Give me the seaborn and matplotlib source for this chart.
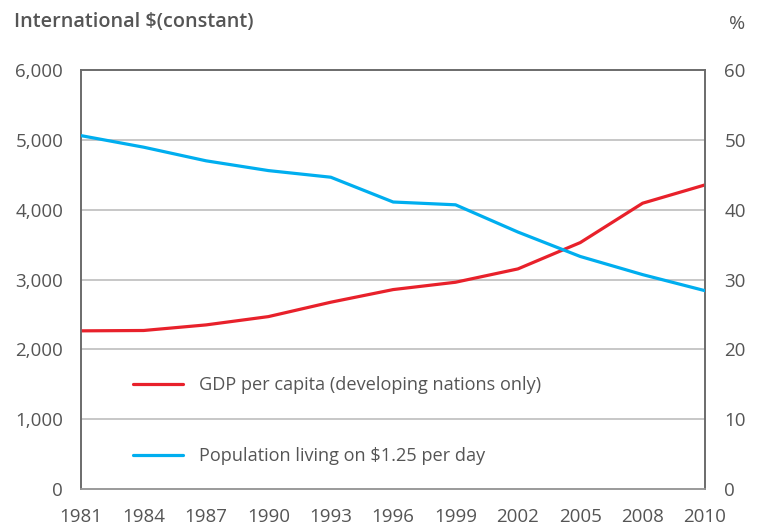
import matplotlib
matplotlib.use("Agg")
import matplotlib.pyplot as plt
import seaborn as sns
import pandas as pd
from matplotlib.lines import Line2D

years = ["1981", "1984", "1987", "1990", "1993", "1996", "1999", "2002", "2005", "2008", "2010"]
gdp_per_capita = [2265, 2270, 2350, 2469, 2675, 2856, 2961, 3152, 3529, 4093, 4355]
poverty_pct = [50.6, 48.95, 47.0, 45.6, 44.65, 41.1, 40.7, 36.8, 33.3, 30.7, 28.4]
left_ticks = [0, 1000, 2000, 3000, 4000, 5000, 6000]
right_ticks = [0, 10, 20, 30, 40, 50, 60]
label_gdp = "GDP per capita (developing nations only)"
label_pov = "Population living on $1.25 per day"
left_title = "International $(constant)"
right_title = "%"

df = pd.DataFrame({"year": years, "gdp": gdp_per_capita, "pov": poverty_pct})

sns.set_style("white")
plt.rcParams["font.family"] = ["Open Sans", "DejaVu Sans"]
txt = "#555555"
red = "#e8212b"
blue = "#00aeef"

fig = plt.figure(figsize=(7.64, 5.27), dpi=100)
ax = fig.add_axes([0.1064, 0.0721, 0.8164, 0.795])
ax2 = ax.twinx()

sns.lineplot(data=df, x="year", y="gdp", ax=ax, color=red, linewidth=2.3,
             zorder=3, sort=False)
sns.lineplot(data=df, x="year", y="pov", ax=ax2, color=blue, linewidth=2.3,
             zorder=3, sort=False)

ax.set_xlim(0, len(years) - 1)
ax.set_ylim(0, 6000)
ax2.set_ylim(0, 60)
ax.set_xticks(range(len(years)))
ax.set_xticklabels(years)
ax.set_yticks(left_ticks)
ax.set_yticklabels([f"{t:,}" for t in left_ticks])
ax2.set_yticks(right_ticks)
ax2.set_yticklabels([str(t) for t in right_ticks])
ax.set_xlabel("")
ax.set_ylabel("")
ax2.set_ylabel("")

for t in left_ticks[1:-1]:
    ax.axhline(t, color="#bdbdbd", linewidth=1.2, zorder=1)

for a in (ax, ax2):
    for s in a.spines.values():
        s.set_color("#6b6b6b")
        s.set_linewidth(1.2)
    a.spines["bottom"].set_color("#9a9a9a")

ax.tick_params(axis="x", direction="out", length=7, width=1, color="#9a9a9a",
               labelsize=13.5, labelcolor=txt, pad=7)
ax.tick_params(axis="y", length=0, labelsize=13.5, labelcolor=txt, pad=13)
ax2.tick_params(axis="y", length=0, labelsize=13.5, labelcolor=txt, pad=14)

fig.text(14 / 764, 1 - 22 / 527, left_title, fontsize=14.3, color=txt,
         fontweight="semibold", va="center", ha="left")
fig.text(745 / 764, 1 - 24 / 527, right_title, fontsize=14, color=txt,
         va="center", ha="right")

handles = [Line2D([0], [0], color=red, linewidth=2.3),
           Line2D([0], [0], color=blue, linewidth=2.3)]
for a in (ax, ax2):
    if a.get_legend() is not None:
        a.get_legend().remove()
leg = ax2.legend(handles, [label_gdp, label_pov], loc="center left",
                 bbox_to_anchor=(0.083, 0.163), frameon=False, fontsize=13.05,
                 labelcolor=txt, handlelength=2.75, handletextpad=0.9,
                 labelspacing=2.9, borderaxespad=0, borderpad=0)

fig.savefig("out.png", dpi=100)
